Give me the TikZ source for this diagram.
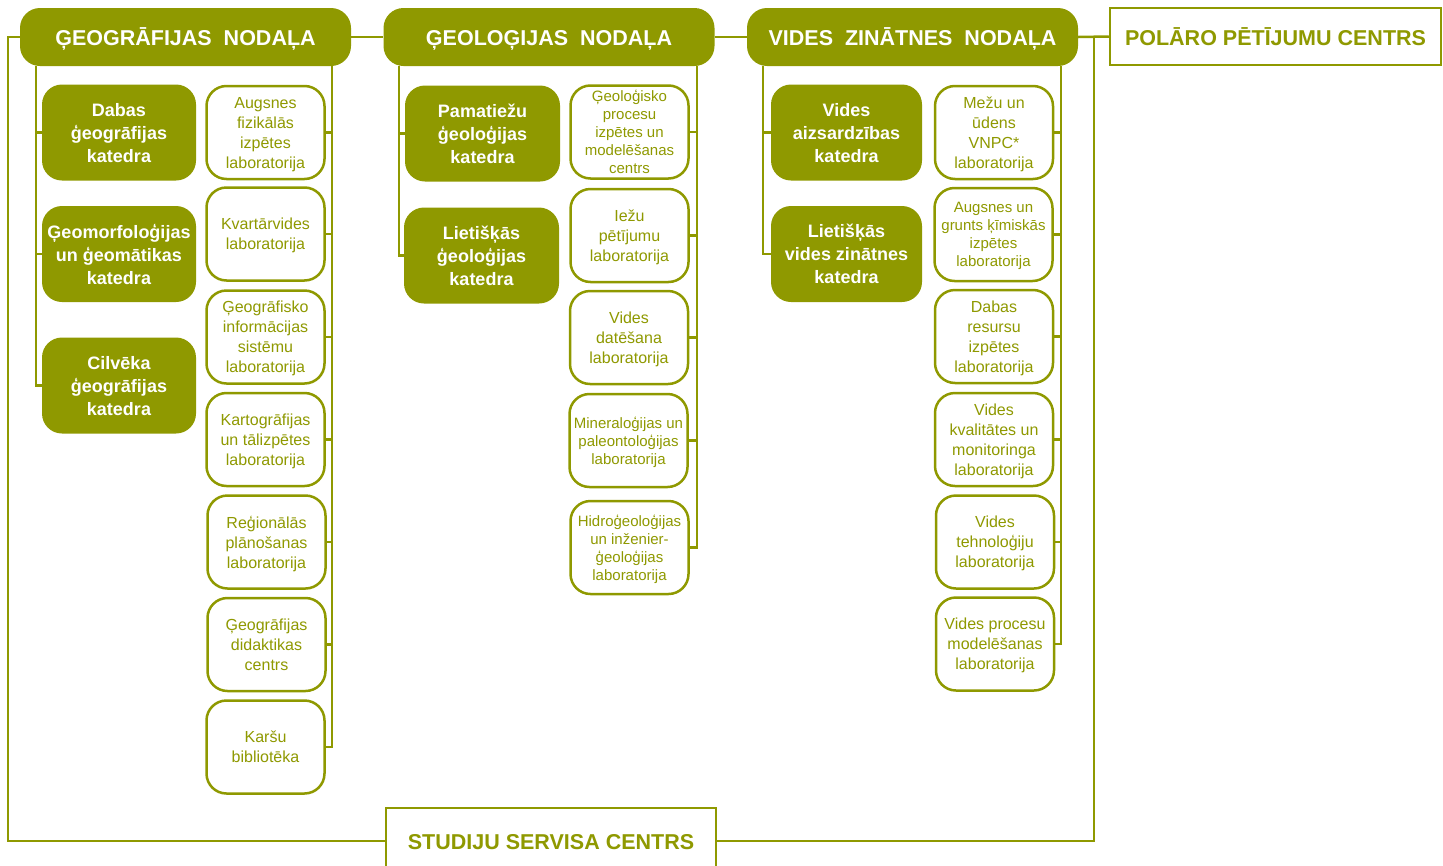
\documentclass[tikz,border=0pt]{standalone}
\usepackage{fontspec}
\setmainfont{Liberation Sans}
\definecolor{lzolive}{RGB}{143,153,0}
\begin{document}
\begin{tikzpicture}[x=1pt,y=-1pt,
    nodala/.style={fill=lzolive,text=white,rounded corners=20pt,inner sep=0pt,
      minimum width=331pt,minimum height=58pt,text height=17.4pt,text depth=0pt,
      font=\fontsize{21.5}{24}\selectfont\bfseries},
    centrs/.style={draw=lzolive,line width=2.5pt,fill=white,text=lzolive,inner sep=0pt,
      minimum width=331pt,minimum height=57pt,text height=18.4pt,text depth=0pt,
      font=\fontsize{21.5}{24}\selectfont\bfseries},
    katedra/.style={fill=lzolive,text=white,rounded corners=20pt,inner sep=0pt,align=center,
      minimum width=154pt,minimum height=96pt,text depth=0pt,
      font=\fontsize{18}{23}\selectfont\bfseries},
    lab/.style={draw=lzolive,line width=2.5pt,fill=white,text=lzolive,rounded corners=20pt,
      inner sep=0pt,align=center,minimum width=118pt,minimum height=93pt,
      text depth=0pt,font=\fontsize{16}{20}\selectfont},
    smalllab/.style={lab,text depth=-1pt,font=\fontsize{15}{18}\selectfont},
    link/.style={draw=lzolive,line width=2.5pt}]
  \useasboundingbox (0,0) rectangle (1443,865);
  % nodalas
  \node[nodala] (geo) at (185.5,37) {ĢEOGRĀFIJAS\ \ NODAĻA};
  \node[nodala] (gel) at (549,37) {ĢEOLOĢIJAS\ \ NODAĻA};
  \node[nodala] (vid) at (912.5,37) {VIDES\ \ ZINĀTNES\ \ NODAĻA};
  \node[centrs] (pol) at (1275.5,36.5) {POLĀRO PĒTĪJUMU CENTRS};
  \node[centrs,minimum width=330pt,minimum height=66pt,text height=16.6pt] (stu) at (551,841) {STUDIJU SERVISA CENTRS};
  % geografija
  \node[katedra] (gk1) at (119,132.5) {Dabas\\ģeogrāfijas\\katedra};
  \node[katedra] (gk2) at (119,254) {Ģeomorfoloģijas\\un ģeomātikas\\katedra};
  \node[katedra] (gk3) at (119,385.5) {Cilvēka\\ģeogrāfijas\\katedra};
  \node[lab] (gl1) at (265.5,132.5) {Augsnes\\fizikālās\\izpētes\\laboratorija};
  \node[lab] (gl2) at (265.5,234) {Kvartārvides\\laboratorija};
  \node[lab] (gl3) at (265.5,337) {Ģeogrāfisko\\informācijas\\sistēmu\\laboratorija};
  \node[lab] (gl4) at (265.5,439.5) {Kartogrāfijas\\un tālizpētes\\laboratorija};
  \node[lab] (gl5) at (266.5,542) {Reģionālās\\plānošanas\\laboratorija};
  \node[lab] (gl6) at (266.5,644.5) {Ģeogrāfijas\\didaktikas\\centrs};
  \node[lab] (gl7) at (265.5,747) {Karšu\\bibliotēka};
  % geologija
  \node[katedra,minimum width=155pt] (ek1) at (482.5,133.5) {Pamatiežu\\ģeoloģijas\\katedra};
  \node[katedra,minimum width=155pt] (ek2) at (481.5,255.5) {Lietišķās\\ģeoloģijas\\katedra};
  \node[smalllab] (el1) at (629.5,132) {Ģeoloģisko\\procesu\\izpētes un\\modelēšanas\\centrs};
  \node[lab] (el2) at (629.5,235.5) {Iežu\\pētījumu\\laboratorija};
  \node[lab] (el3) at (629,337.5) {Vides\\datēšana\\laboratorija};
  \node[smalllab] (el4) at (628.5,440.5) {Mineraloģijas un\\paleontoloģijas\\laboratorija};
  \node[smalllab] (el5) at (629.5,547.5) {Hidroģeoloģijas\\un inženier-\\ģeoloģijas\\laboratorija};
  % vides zinatne
  \node[katedra,minimum width=151pt] (vk1) at (846.5,132.5) {Vides\\aizsardzības\\katedra};
  \node[katedra,minimum width=151pt] (vk2) at (846.5,254) {Lietišķās\\vides zinātnes\\katedra};
  \node[lab] (vl1) at (994,132.5) {Mežu un\\ūdens\\VNPC*\\laboratorija};
  \node[smalllab] (vl2) at (993.5,234.5) {Augsnes un\\grunts ķīmiskās\\izpētes\\laboratorija};
  \node[lab] (vl3) at (994,336.5) {Dabas\\resursu\\izpētes\\laboratorija};
  \node[lab] (vl4) at (994,439.5) {Vides\\kvalitātes un\\monitoringa\\laboratorija};
  \node[lab] (vl5) at (995,542) {Vides\\tehnoloģiju\\laboratorija};
  \node[lab] (vl6) at (995,644) {Vides procesu\\modelēšanas\\laboratorija};
  % spines
  \coordinate (gL) at (36,0);  \coordinate (gR) at (332,0);
  \coordinate (eL) at (399,0); \coordinate (eR) at (697,0);
  \coordinate (vL) at (763,0); \coordinate (vR) at (1061,0);
  \coordinate (oL) at (8,0);   \coordinate (oR) at (1094,37);
  \draw[link] (geo.east) -- (gel.west);
  \draw[link] (gel.east) -- (vid.west);
  \draw[link] (vid.east) -- (pol.west);
  \draw[link] (geo.west) -| (oL |- stu.west) -- (stu.west);
  \draw[link] (stu.east) -| (oR);
  \draw[link] (geo.south -| gL) |- (gk3.west);
  \draw[link] (gk1.west -| gL) -- (gk1.west);
  \draw[link] (gk2.west -| gL) -- (gk2.west);
  \draw[link] (geo.south -| gR) |- (gl7.east);
  \foreach \n in {1,...,6}
    \draw[link] (gl\n.east -| gR) -- (gl\n.east);
  \draw[link] (gel.south -| eL) |- (ek2.west);
  \draw[link] (ek1.west -| eL) -- (ek1.west);
  \draw[link] (gel.south -| eR) |- (el5.east);
  \foreach \n in {1,...,4}
    \draw[link] (el\n.east -| eR) -- (el\n.east);
  \draw[link] (vid.south -| vL) |- (vk2.west);
  \draw[link] (vk1.west -| vL) -- (vk1.west);
  \draw[link] (vid.south -| vR) |- (vl6.east);
  \foreach \n in {1,...,5}
    \draw[link] (vl\n.east -| vR) -- (vl\n.east);
\end{tikzpicture}
\end{document}
